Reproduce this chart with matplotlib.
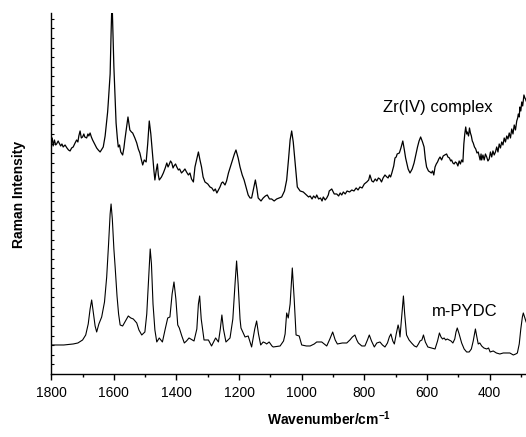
import matplotlib
matplotlib.use("Agg")
import matplotlib.pyplot as plt
from matplotlib.ticker import MultipleLocator

plt.rcParams['font.family'] = ['Liberation Sans', 'DejaVu Sans']
plt.rcParams['mathtext.fontset'] = 'custom'
plt.rcParams['mathtext.rm'] = 'Liberation Sans'
plt.rcParams['mathtext.bf'] = 'Liberation Sans:bold'

# Zr(IV) complex spectrum (wavenumber, intensity a.u.)
zr_wn = [1800, 1797, 1794, 1790, 1786, 1783, 1778, 1775, 1770, 1766, 1762, 1756, 1750, 1745,
         1740, 1735, 1730, 1724, 1719, 1715, 1712, 1708, 1704, 1700, 1696, 1693, 1687, 1683,
         1680, 1676, 1672, 1668, 1660, 1655, 1650, 1644, 1638, 1634, 1628, 1625, 1620, 1618,
         1612, 1609, 1606, 1603, 1600, 1596, 1593, 1589, 1586, 1582, 1578, 1572, 1568, 1565,
         1558, 1555, 1549, 1544, 1540, 1533, 1527, 1522, 1517, 1512, 1508, 1503, 1497, 1492,
         1487, 1482, 1476, 1472, 1469, 1465, 1461, 1458, 1455, 1448, 1442, 1436, 1431, 1427,
         1424, 1419, 1415, 1411, 1408, 1403, 1399, 1394, 1390, 1384, 1378, 1373, 1368, 1362,
         1357, 1352, 1346, 1341, 1335, 1330, 1325, 1320, 1315, 1309, 1300, 1293, 1287, 1281,
         1276, 1271, 1266, 1261, 1256, 1252, 1245, 1240, 1234, 1229, 1224, 1215, 1210, 1203,
         1197, 1190, 1184, 1177, 1171, 1165, 1160, 1154, 1148, 1143, 1139, 1130, 1123, 1116,
         1110, 1103, 1096, 1088, 1080, 1072, 1064, 1055, 1048, 1042, 1037, 1032, 1027, 1021,
         1014, 1005, 995, 985, 978, 973, 967, 962, 956, 952, 946, 940, 935, 931, 925, 920,
         915, 912, 904, 896, 888, 882, 877, 872, 867, 861, 855, 847, 840, 833, 826, 820, 814,
         807, 800, 792, 786, 782, 776, 771, 765, 760, 755, 750, 745, 740, 734, 728, 724, 720,
         716, 712, 706, 702, 698, 695, 688, 683, 677, 672, 668, 660, 654, 647, 641, 635, 630,
         625, 620, 614, 609, 605, 601, 595, 590, 586, 582, 578, 574, 570, 566, 562, 558, 553,
         548, 543, 537, 533, 528, 524, 521, 517, 513, 509, 505, 501, 497, 493, 489, 485, 482,
         479, 476, 473, 471, 467, 464, 461, 458, 455, 452, 448, 444, 440, 436, 433, 430, 427,
         425, 421, 417, 413, 409, 405, 401, 397, 393, 389, 385, 381, 377, 373, 369, 365, 361,
         357, 353, 349, 345, 341, 337, 333, 329, 325, 321, 317, 313, 310, 308, 305, 303, 300,
         297, 294, 290, 287, 285, 283]
zr_int = [232, 236, 228, 234, 229, 230, 233, 231, 228, 230, 227, 229, 226, 224,
          223, 226, 227, 231, 234, 232, 238, 243, 236, 237, 240, 237, 236, 240,
          238, 241, 237, 234, 229, 226, 224, 222, 225, 227, 238, 247, 262, 271,
          300, 340, 375, 340, 307, 275, 251, 236, 227, 229, 222, 219, 226, 234,
          250, 257, 244, 242, 241, 236, 231, 225, 221, 214, 209, 214, 212, 230,
          253, 240, 217, 203, 194, 203, 210, 199, 194, 197, 201, 206, 211, 207,
          209, 213, 211, 206, 208, 210, 207, 204, 205, 201, 203, 205, 202, 199,
          201, 195, 192, 207, 215, 222, 214, 207, 197, 192, 190, 187, 186, 183,
          185, 181, 184, 187, 191, 192, 189, 193, 201, 206, 211, 220, 224, 216,
          207, 199, 194, 186, 179, 176, 176, 185, 194, 185, 176, 173, 176, 178,
          179, 175, 175, 173, 175, 176, 177, 183, 194, 215, 234, 243, 232, 211,
          187, 183, 182, 179, 177, 178, 175, 178, 176, 179, 175, 176, 173, 177, 174, 176,
          179, 183, 185, 180, 180, 178, 181, 179, 182, 180, 183, 182, 184, 183, 186, 184, 187,
          186, 190, 192, 194, 199, 193, 192, 195, 193, 196, 195, 192, 196, 199, 197, 196, 199,
          197, 201, 208, 216, 217, 220, 221, 226, 233, 224, 216, 205, 201, 205, 211, 220, 227,
          233, 237, 232, 227, 215, 207, 203, 202, 201, 203, 199, 207, 210, 212, 215, 217, 214,
          218, 219, 220, 217, 216, 213, 214, 211, 210, 212, 211, 208, 213, 210, 214, 212, 230,
          240, 247, 240, 242, 238, 246, 241, 238, 233, 231, 227, 225, 221, 222, 218, 214, 220,
          214, 219, 214, 220, 217, 213, 215, 222, 217, 223, 219, 222, 227, 222, 230, 226, 232,
          229, 236, 232, 238, 235, 241, 236, 245, 240, 249, 244, 253, 256, 260, 257, 267, 263,
          272, 268, 279, 276, 275, 273]

# m-PYDC spectrum (wavenumber, intensity a.u.)
py_wn = [1800, 1760, 1730, 1715, 1700, 1690, 1682, 1676, 1671, 1666, 1660, 1655, 1648, 1639,
         1630, 1623, 1617, 1612, 1609, 1605, 1600, 1596, 1590, 1585, 1580, 1572, 1563, 1554,
         1546, 1538, 1527, 1520, 1511, 1501, 1495, 1489, 1484, 1480, 1475, 1469, 1463, 1455,
         1445, 1436, 1428, 1421, 1414, 1408, 1402, 1396, 1391, 1383, 1375, 1368, 1360, 1344,
         1335, 1330, 1326, 1321, 1312, 1298, 1288, 1275, 1266, 1260, 1255, 1250, 1242, 1229,
         1220, 1213, 1208, 1203, 1197, 1194, 1181, 1171, 1160, 1150, 1144, 1138, 1131, 1123,
         1116, 1112, 1104, 1095, 1091, 1069, 1058, 1053, 1048, 1043, 1037, 1030, 1024, 1018,
         1008, 1000, 985, 973, 960, 952, 936, 920, 910, 901, 893, 886, 870, 856, 846, 838,
         830, 824, 819, 808, 798, 790, 784, 777, 768, 760, 750, 742, 734, 726, 720, 715, 709,
         704, 698, 692, 689, 686, 680, 675, 671, 665, 657, 649, 640, 633, 627, 622, 616, 611,
         605, 597, 586, 574, 566, 560, 555, 550, 545, 540, 535, 529, 523, 517, 511, 507, 503,
         497, 489, 481, 473, 465, 458, 452, 445, 441, 436, 431, 425, 418, 409, 403, 398, 388,
         378, 367, 356, 345, 335, 324, 316, 311, 305, 300, 295, 292, 289, 285, 283]
py_int = [29, 29, 30, 31, 34, 39, 50, 65, 74, 62, 48, 42, 50, 57,
          72, 97, 130, 160, 170, 155, 125, 107, 78, 60, 49, 48, 53, 58,
          56, 55, 51, 44, 39, 42, 60, 95, 125, 110, 70, 44, 32, 36,
          32, 45, 56, 57, 80, 92, 75, 49, 46, 38, 31, 33, 36, 33,
          45, 70, 78, 55, 34, 34, 28, 36, 32, 45, 59, 45, 32, 36,
          55, 90, 113, 90, 55, 46, 37, 38, 27, 45, 53, 40, 29, 32,
          31, 30, 32, 28, 27, 28, 33, 40, 61, 56, 70, 106, 75, 39,
          38, 29, 28, 28, 30, 32, 32, 28, 35, 42, 34, 30, 31, 31, 34, 37,
          39, 34, 31, 28, 28, 34, 39, 33, 27, 31, 32, 29, 27, 31, 37, 40, 33,
          30, 40, 49, 45, 37, 60, 78, 60, 39, 34, 31, 28, 27, 30, 33, 34, 39,
          32, 27, 26, 25, 33, 41, 37, 35, 36, 34, 35, 34, 33, 31, 35, 42, 46,
          40, 31, 25, 22, 22, 25, 33, 45, 38, 30, 31, 28, 26, 25, 26, 22, 23,
          21, 20, 21, 21, 21, 19, 20, 21, 30, 45, 57, 61, 58, 54, 52]

fig = plt.figure(figsize=(5.26, 4.37), dpi=100)
ax = fig.add_axes([0.0975, 0.1442, 0.9025, 0.8261])

ax.plot(zr_wn, zr_int, c='black', lw=0.9)
ax.plot(py_wn, py_int, c='black', lw=0.8)

ax.set_xlim(1800, 283.4)
ax.set_ylim(0, 361)

ax.spines['top'].set_visible(False)
ax.spines['right'].set_visible(False)
ax.spines['left'].set_linewidth(1.0)
ax.spines['bottom'].set_linewidth(1.0)

ax.xaxis.set_major_locator(MultipleLocator(200))
ax.xaxis.set_minor_locator(MultipleLocator(100))
ax.tick_params(axis='x', which='major', direction='out', length=4, width=1,
               labelsize=10, pad=5)
ax.tick_params(axis='x', which='minor', direction='out', length=2.5, width=1)

ax.yaxis.set_major_locator(MultipleLocator(9.6))
ax.tick_params(axis='y', which='major', direction='in', length=2.5, width=0.8,
               labelleft=False)

ax.text(740, 266, 'Zr(IV) complex', fontsize=12, ha='left', va='center')
ax.text(584, 62, 'm-PYDC', fontsize=12, ha='left', va='center')

fig.text(329 / 526, 1 - 419 / 437, r'Wavenumber/cm$\mathbf{^{-1}}$', fontsize=10,
         fontweight='bold', ha='center', va='center')
fig.text(19 / 526, 1 - 194 / 437, 'Raman Intensity', fontsize=10, fontweight='bold',
         rotation=90, ha='center', va='center')

fig.savefig('out.png', dpi=100)
